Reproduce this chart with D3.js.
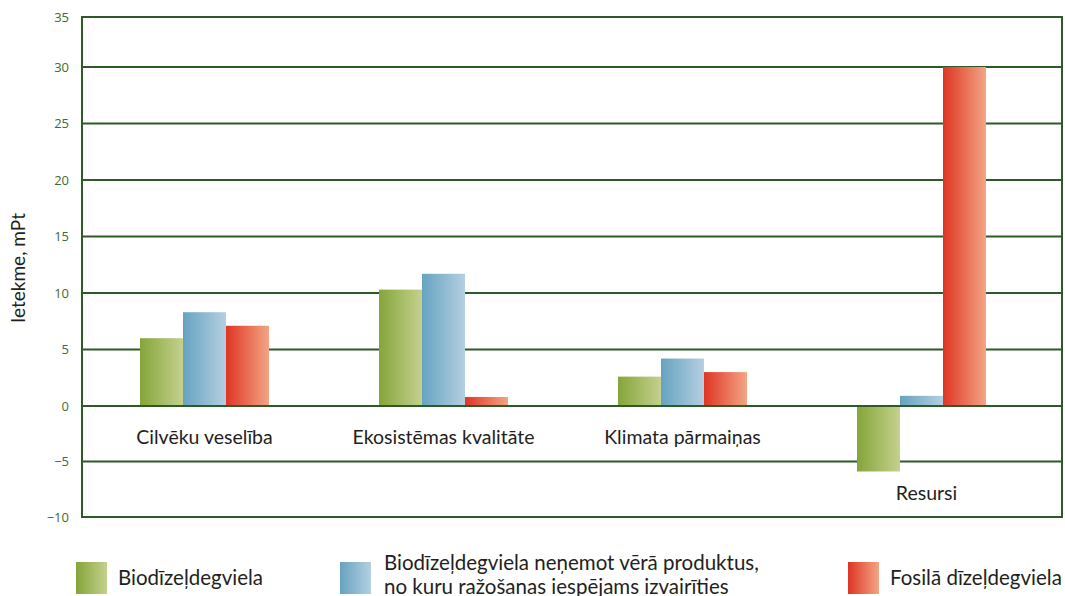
<!DOCTYPE html>
<html>
<head>
<meta charset="utf-8">
<script src="https://cdn.jsdelivr.net/npm/d3@7"></script>
<style>
  html, body { margin: 0; padding: 0; background: #fff; }
  svg { display: block; }
  text { font-family: "Lato", "Noto Sans", sans-serif; }
</style>
</head>
<body>
<svg id="chart" width="1065" height="596"></svg>
<script>
// ---- data ----
const categories = ["Cilvēku veselība", "Ekosistēmas kvalitāte", "Klimata pārmaiņas", "Resursi"];
const seriesNames = ["Biodīzeļdegviela", "Biodīzeļdegviela neņemot vērā produktus, no kuru ražošanas iespējams izvairīties", "Fosilā dīzeļdegviela"];
const biodiesel = [6.0, 10.3, 2.6, -5.9];
const biodieselAvoided = [8.3, 11.7, 4.2, 0.9];
const fossilDiesel = [7.1, 0.8, 3.0, 30.0];
const yTicks = [-10, -5, 0, 5, 10, 15, 20, 25, 30, 35];
const yTickLabels = ["\u221210", "\u22125", "0", "5", "10", "15", "20", "25", "30", "35"];
const yTitle = "Ietekme, mPt";
const legendLines = [["Biodīzeļdegviela"], ["Biodīzeļdegviela neņemot vērā produktus,", "no kuru ražošanas iespējams izvairīties"], ["Fosilā dīzeļdegviela"]];

const seriesValues = [biodiesel, biodieselAvoided, fossilDiesel];

// ---- layout ----
const svg = d3.select("#chart");
const plotLeft = 82, plotRight = 1062, plotTop = 17, plotBottom = 517;
const gridColor = "#2d5a27";
const tickColor = "#3d6b36";
const textColor = "#231f20";

const y = d3.scaleLinear().domain([-10, 0, 30, 35]).range([plotBottom, 406, 67, plotTop]);
const x0 = d3.scaleBand().domain(categories).range([85, 1041]).padding(0);
const groupWidth = 129;
const x1 = d3.scaleBand().domain(d3.range(seriesNames.length)).range([0, groupWidth]).padding(0);

// gradients
const gradColors = [["#85a53a", "#c4d18d"], ["#66a3c1", "#b4cfe0"], ["#de3524", "#f3a585"]];
const defs = svg.append("defs");
gradColors.forEach((c, i) => {
  const g = defs.append("linearGradient").attr("id", "grad" + i)
    .attr("x1", "0%").attr("x2", "100%").attr("y1", "0%").attr("y2", "0%");
  g.append("stop").attr("offset", "0%").attr("stop-color", c[0]);
  g.append("stop").attr("offset", "100%").attr("stop-color", c[1]);
});

// gridlines
svg.append("g").selectAll("line").data(yTicks).join("line")
  .attr("x1", plotLeft).attr("x2", plotRight)
  .attr("y1", d => y(d)).attr("y2", d => y(d))
  .attr("stroke", gridColor).attr("stroke-width", 2);

// frame left & right
svg.append("line").attr("x1", plotLeft).attr("x2", plotLeft).attr("y1", plotTop - 1).attr("y2", plotBottom + 1)
  .attr("stroke", gridColor).attr("stroke-width", 2);
svg.append("line").attr("x1", plotRight).attr("x2", plotRight).attr("y1", plotTop - 1).attr("y2", plotBottom + 1)
  .attr("stroke", gridColor).attr("stroke-width", 2);

// y axis labels
const yAxis = d3.axisLeft(y).tickValues(yTicks).tickSize(0).tickPadding(13)
  .tickFormat((d, i) => yTickLabels[i]);
const yg = svg.append("g").attr("transform", `translate(${plotLeft},0)`).call(yAxis);
yg.select(".domain").remove();
yg.selectAll("text").attr("fill", tickColor).attr("font-size", 13)
  .style("font-family", "'Open Sans', sans-serif");

// y title
svg.append("text").attr("transform", `translate(25,${268}) rotate(-90)`)
  .attr("text-anchor", "middle").attr("font-size", 19).attr("fill", textColor)
  .text(yTitle);

// bars
const barData = [];
categories.forEach((c, ci) => {
  seriesValues.forEach((arr, si) => barData.push({ c, si, v: arr[ci] }));
});
const groupOffset = (x0.bandwidth() - groupWidth) / 2;
svg.append("g").selectAll("rect").data(barData).join("rect")
  .attr("x", d => x0(d.c) + groupOffset + x1(d.si))
  .attr("width", x1.bandwidth())
  .attr("y", d => y(Math.max(0, d.v)))
  .attr("height", d => Math.abs(y(d.v) - y(0)))
  .attr("fill", d => `url(#grad${d.si})`);

// redraw zero line on top of bars
svg.append("line").attr("x1", plotLeft).attr("x2", plotRight).attr("y1", y(0)).attr("y2", y(0))
  .attr("stroke", gridColor).attr("stroke-width", 2);

// category labels
svg.append("g").selectAll("text").data(categories).join("text")
  .attr("x", (d, i) => x0(d) + x0.bandwidth() / 2 + (i === 3 ? 5 : 0))
  .attr("y", (d, i) => {
    const minV = d3.min(seriesValues, a => a[i]);
    return minV < 0 ? y(minV) + 29 : y(0) + 38;
  })
  .attr("text-anchor", "middle").attr("font-size", 19.5).attr("fill", textColor)
  .text(d => d);

// legend
const legendX = [76, 340, 848];
const lg = svg.append("g");
legendLines.forEach((lines, i) => {
  lg.append("rect").attr("x", legendX[i]).attr("y", 562).attr("width", 31).attr("height", 32)
    .attr("fill", `url(#grad${i})`);
  const t = lg.append("text").attr("x", legendX[i] + 42).attr("font-size", 20.5).attr("fill", textColor);
  if (lines.length === 1) {
    t.attr("y", 585).text(lines[0]);
  } else {
    lines.forEach((l, j) => t.append("tspan").attr("x", legendX[i] + 44).attr("y", 570 + j * 24).text(l));
  }
});
</script>
</body>
</html>
